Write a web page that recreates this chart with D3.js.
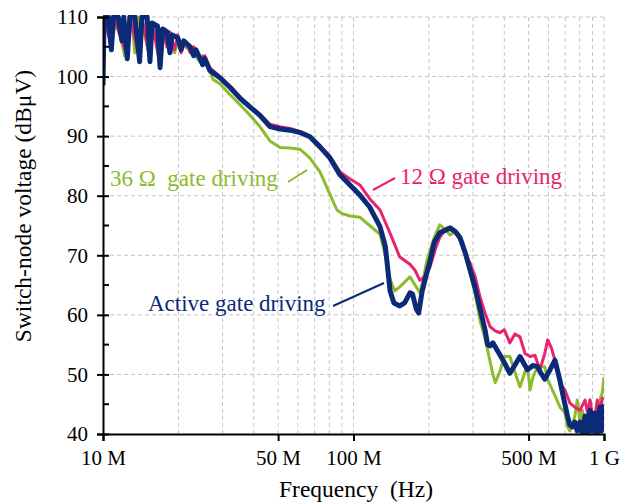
<!DOCTYPE html>
<html>
<head>
<meta charset="utf-8">
<script src="https://cdn.jsdelivr.net/npm/d3@7"></script>
<style>
  body { margin: 0; background: #fff; }
  text { font-family: "Liberation Serif", "Times New Roman", serif; }
</style>
</head>
<body>
<script>
// frequency in MHz, level in dBuV
var xTicks = [10, 50, 100, 500, 1000];
var xTickLabels = ["10 M", "50 M", "100 M", "500 M", "1 G"];
var yTicks = [40, 50, 60, 70, 80, 90, 100, 110];

var freqGrid = [20, 30, 40, 50, 60, 70, 80, 90, 100, 200, 300, 400, 500, 600, 700, 800, 900, 1000];

var green36 = [
  [10, 99], [10.2, 110], [10.9, 106], [11.3, 110], [12.2, 103.5], [12.5, 109], [13, 110],
  [13.4, 104], [13.8, 110], [14.5, 108], [15.4, 103], [15.8, 108], [16.5, 107], [17, 102.5],
  [17.5, 107.5], [18.5, 106.5], [19.3, 104], [19.9, 106], [21.2, 105], [22.3, 104.5],
  [24.4, 102.5], [25, 103.5], [26.7, 101], [27.5, 99.5], [29.3, 98.8], [32.1, 97],
  [35.2, 95.3], [38.6, 93.5], [42.3, 91.6], [46.4, 89.2], [50.9, 88.1], [55.8, 88],
  [61.2, 87.8], [67, 86.3], [73.5, 84], [80.6, 80.2], [85.9, 77.6], [90, 77], [96.8, 76.6],
  [106, 76.4], [116, 75], [127.6, 73.5], [134, 70], [140, 66], [146, 64], [153, 64.7],
  [160, 65.5], [168, 66.4], [176, 65], [184, 63.7], [190, 66], [196, 69], [210, 73],
  [221, 75.1], [230, 74.5], [243, 73.4], [255, 74], [266, 72.8], [280, 70], [292, 67],
  [306, 63.5], [320, 59], [335, 56], [343, 54.1], [360, 50], [368, 48.6], [384, 50.5],
  [400, 53], [421, 53], [440, 50.5], [462, 47.9], [484, 50.5], [495, 51.3], [507, 47.4],
  [520, 49.5], [543, 51.3], [580, 51.3], [596, 49.1], [637, 46.5], [667, 44.5], [698, 43.6],
  [715, 41.2], [731, 40.5], [765, 43], [782, 45.7], [802, 42], [820, 44], [840, 40.5],
  [860, 43], [879, 45.7], [900, 41], [920, 43], [940, 44.5], [964, 45.7], [985, 47], [1000, 49.5]
];

var pink12 = [
  [10, 99], [10.1, 110], [10.8, 105], [11, 110], [12.5, 103.5], [12.8, 110], [14, 103],
  [14.3, 110], [15.4, 103], [15.7, 109], [16.9, 102], [17.3, 108], [18, 105], [18.5, 107.5],
  [19.3, 104.5], [19.9, 107], [20.5, 104], [21.2, 106], [22.3, 104], [23, 105], [24.4, 103],
  [25.5, 103.5], [26.7, 101.5], [29.3, 100], [32.1, 98.4], [35.2, 96.6], [38.6, 95],
  [42.3, 93.7], [46.4, 92], [50.9, 91.6], [55.8, 91.3], [61.2, 90.8], [67, 90], [73.5, 88.4],
  [80.6, 86.6], [88.3, 84], [96.8, 82.8], [106, 81.8], [116, 79.5], [127.6, 77.6], [140, 73.7],
  [153, 69.7], [168, 68.5], [176, 67.5], [184, 65.8], [193, 66.5], [202, 68], [212, 71],
  [221, 73], [236, 74.6], [250, 74], [258, 73.5], [266, 72.6], [280, 70], [292, 68.7],
  [306, 66.4], [320, 63], [335, 60.3], [351, 58], [368, 57.3], [384, 57], [400, 57.5],
  [421, 55.3], [441, 56.8], [462, 56.3], [484, 53.5], [507, 53], [530, 53.2], [555, 50.8],
  [580, 53.5], [596, 55.8], [616, 54.5], [637, 52.4], [667, 48.5], [698, 47.4], [731, 45.2],
  [765, 44.5], [802, 44], [840, 45.7], [860, 43.5], [879, 45.7], [900, 43], [920, 42.9],
  [940, 45.7], [964, 44], [985, 46], [1000, 45.7]
];

var activeGate = [
  [10, 98.5], [10.1, 110], [10.5, 110], [10.8, 104.5], [11, 110], [11.5, 110], [11.9, 106],
  [12.1, 110], [12.5, 103], [12.8, 110], [13.4, 110], [14, 102.5], [14.3, 110], [15, 110],
  [15.4, 102.5], [15.7, 109], [16.5, 108.5], [16.9, 101.5], [17.3, 108], [18, 107.5],
  [18.5, 104], [18.9, 107], [19.9, 106.5], [20.5, 104.5], [21, 106], [22.3, 105], [23, 103.5],
  [23.5, 104.5], [24.4, 103], [25, 102], [25.5, 103], [26.7, 101], [29.3, 99.8], [32.1, 98.2],
  [35.2, 96.4], [38.6, 94.9], [42.3, 93.5], [46.4, 91.6], [50.9, 91.2], [55.8, 91],
  [61.2, 90.6], [67, 89.9], [73.5, 88.2], [80.6, 86.3], [88.3, 83.5], [96.8, 81.8], [106, 80.1],
  [116, 78.1], [127.6, 74.8], [134, 71.5], [140, 64], [145, 62], [153, 61.5], [160, 62],
  [168, 63.7], [172, 63.5], [178, 61], [182, 60.3], [188, 64], [196, 67], [202, 69],
  [210, 72.2], [221, 73.8], [236, 74.3], [243, 74.6], [255, 74], [266, 73], [279, 70.5],
  [292, 67.5], [306, 64.5], [320, 61], [335, 57.5], [343, 55], [351, 54.8], [360, 55.3],
  [384, 53.3], [400, 52], [421, 50.2], [440, 51.5], [462, 53], [484, 51.5], [495, 50.8],
  [520, 51.5], [543, 51.3], [555, 50.5], [580, 49.2], [609, 50.8], [637, 52.4], [667, 49],
  [690, 46], [715, 43], [731, 41.5], [748, 41.2], [765, 42], [782, 40.5], [802, 42], [820, 40],
  [840, 43], [860, 40], [870, 42.5], [879, 44], [890, 40.5], [900, 40.5], [910, 43.5],
  [920, 43.5], [930, 40.2], [940, 40], [952, 43], [964, 44.5], [975, 40.5], [985, 41],
  [1000, 45]
];

var w = 638, h = 503;
var mLeft = 103, mRight = 604, mTop = 17, mBottom = 434;

var svg = d3.select("body").append("svg")
  .attr("width", w)
  .attr("height", h);

var x = d3.scaleLog().domain([10, 1000]).range([mLeft, mRight]);
var y = d3.scaleLinear().domain([40, 110]).range([mBottom, mTop]);

// grid
svg.append("g").selectAll("line")
  .data(freqGrid)
  .enter().append("line")
  .attr("x1", d => x(d)).attr("x2", d => x(d))
  .attr("y1", mTop).attr("y2", mBottom)
  .attr("stroke", "#c4c4c4").attr("stroke-width", 1)
  .attr("stroke-dasharray", "4,3");

svg.append("g").selectAll("line")
  .data(yTicks.slice(1))
  .enter().append("line")
  .attr("x1", mLeft).attr("x2", mRight)
  .attr("y1", d => y(d)).attr("y2", d => y(d))
  .attr("stroke", "#c4c4c4").attr("stroke-width", 1)
  .attr("stroke-dasharray", "4,3");

svg.append("clipPath").attr("id", "plot")
  .append("rect").attr("x", mLeft).attr("y", mTop - 2)
  .attr("width", mRight - mLeft).attr("height", mBottom - mTop + 2);

var line = d3.line().x(d => x(d[0])).y(d => y(d[1]));

var series = [
  { data: green36, color: "#8cbb2c", width: 3 },
  { data: pink12, color: "#e8236f", width: 3 },
  { data: activeGate, color: "#0b2a78", width: 5 }
];

svg.append("g").attr("clip-path", "url(#plot)")
  .selectAll("path")
  .data(series)
  .enter().append("path")
  .attr("d", d => line(d.data))
  .attr("fill", "none")
  .attr("stroke", d => d.color)
  .attr("stroke-width", d => d.width)
  .attr("stroke-linejoin", "round");

// axes
var xAxis = d3.axisBottom(x).tickValues(xTicks)
  .tickFormat((d, i) => xTickLabels[i]).tickSize(7).tickPadding(9);
var gx = svg.append("g").attr("transform", "translate(0," + mBottom + ")").call(xAxis);
gx.select(".domain").attr("stroke", "#000").attr("stroke-width", 2);
gx.selectAll(".tick line").attr("stroke", "#000").attr("stroke-width", 2);
gx.selectAll("text").attr("font-size", 21).attr("fill", "#000")
  .attr("font-family", "Liberation Serif");

var yAxis = d3.axisLeft(y).tickValues(yTicks).tickSize(6).tickPadding(9);
var gy = svg.append("g").attr("transform", "translate(" + mLeft + ",0)").call(yAxis);
gy.select(".domain").attr("stroke", "#000").attr("stroke-width", 2);
gy.selectAll(".tick line").attr("stroke", "#000").attr("stroke-width", 2)
  .attr("x2", -6).attr("x1", 6);
gy.selectAll("text").attr("font-size", 21).attr("fill", "#000")
  .attr("font-family", "Liberation Serif");

// minor ticks on y
svg.append("g").selectAll("line")
  .data([45, 55, 65, 75, 85, 95, 105])
  .enter().append("line")
  .attr("x1", mLeft).attr("x2", mLeft + 6)
  .attr("y1", d => y(d)).attr("y2", d => y(d))
  .attr("stroke", "#000").attr("stroke-width", 2);

// axis titles
svg.append("text")
  .attr("x", 356).attr("y", 497)
  .attr("text-anchor", "middle").attr("font-size", 23.5)
  .text("Frequency\u00a0 (Hz)");

svg.append("text")
  .attr("transform", "translate(31," + 206 + ") rotate(-90)")
  .attr("text-anchor", "middle").attr("font-size", 23.5)
  .text("Switch-node voltage (dB\u03bcV)");

// annotations
var notes = [
  { text: "36 \u03a9\u00a0 gate driving", color: "#8cbb2c", tx: 110, ty: 186, p: [[288, 182], [307, 170]] },
  { text: "12 \u03a9 gate driving", color: "#e8236f", tx: 400, ty: 184, p: [[373, 190], [395, 178]] },
  { text: "Active gate driving", color: "#0b2a78", tx: 148, ty: 311, p: [[333, 306], [384, 283]] }
];

notes.forEach(n => {
  svg.append("text").attr("x", n.tx).attr("y", n.ty)
    .attr("font-size", 23).attr("fill", n.color).text(n.text);
  svg.append("line")
    .attr("x1", n.p[0][0]).attr("y1", n.p[0][1])
    .attr("x2", n.p[1][0]).attr("y2", n.p[1][1])
    .attr("stroke", n.color).attr("stroke-width", 2);
});
</script>
</body>
</html>
